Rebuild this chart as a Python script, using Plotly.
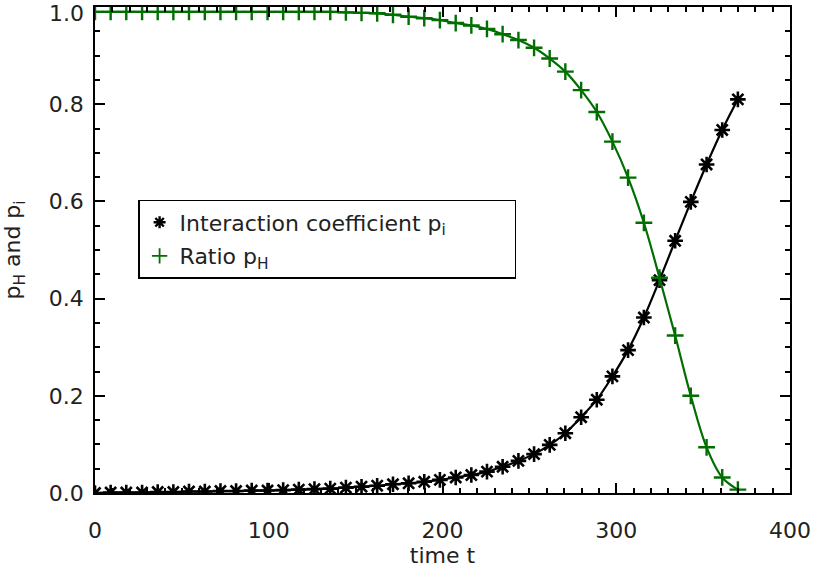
import plotly.graph_objects as go

t = [0.0, 9.0, 18.0, 27.1, 36.1, 45.1, 54.1, 63.2, 72.2, 81.2, 90.2, 99.3, 108.3, 117.3,
     126.3, 135.4, 144.4, 153.4, 162.4, 171.5, 180.5, 189.5, 198.5, 207.6, 216.6, 225.6,
     234.6, 243.7, 252.7, 261.7, 270.7, 279.8, 288.8, 297.8, 306.8, 315.9, 324.9, 333.9,
     342.9, 352.0, 361.0, 370.0]

p_i = [0.000, 0.001, 0.001, 0.001, 0.002, 0.002, 0.003, 0.003, 0.004, 0.004, 0.005, 0.005,
       0.006, 0.007, 0.008, 0.009, 0.011, 0.013,
       0.015, 0.018, 0.020, 0.023, 0.027, 0.032, 0.037, 0.044, 0.054, 0.066, 0.080, 0.099,
       0.123, 0.156, 0.192, 0.240, 0.294, 0.361, 0.438, 0.519, 0.599, 0.676, 0.747, 0.810]

p_H = [0.990] * 16 + [0.989, 0.988,
       0.987, 0.984, 0.980, 0.977, 0.973, 0.967, 0.962, 0.955, 0.944, 0.932, 0.916, 0.894,
       0.867, 0.829, 0.784, 0.723, 0.649, 0.556, 0.443, 0.324, 0.200, 0.094, 0.032, 0.007]

x_ticks = [0, 100, 200, 300, 400]
y_ticks = [0.0, 0.2, 0.4, 0.6, 0.8, 1.0]
y_labels = ["0.0", "0.2", "0.4", "0.6", "0.8", ""]
top_label = "1.0"

GREEN = "#006e00"
FONT = "DejaVu Sans"
TXT = "#222222"
FS = 22

fig = go.Figure()
fig.add_trace(go.Scatter(x=t, y=p_i, mode="lines+markers", showlegend=False,
                         line=dict(color="black", width=2.2, shape="spline"),
                         marker=dict(symbol="asterisk-open", size=13, color="black",
                                     line=dict(color="black", width=2.6))))
fig.add_trace(go.Scatter(x=t, y=p_H, mode="lines+markers", showlegend=False,
                         line=dict(color=GREEN, width=2.2, shape="spline"),
                         marker=dict(symbol="cross-thin-open", size=12, color=GREEN,
                                     line=dict(color=GREEN, width=2.4))))
# legend-only entries (marker symbol only)
fig.add_trace(go.Scatter(x=[None], y=[None], mode="markers", legendgroup="a",
                         name="Interaction coefficient p<sub>i</sub>" + "&nbsp;" * 9,
                         marker=dict(symbol="asterisk-open", size=10, color="black",
                                     line=dict(color="black", width=2.4))))
fig.add_trace(go.Scatter(x=[None], y=[None], mode="markers", legendgroup="b",
                         name="Ratio p<sub>H</sub>",
                         marker=dict(symbol="cross-thin-open", size=11, color=GREEN,
                                     line=dict(color=GREEN, width=1.8))))

axis_common = dict(showline=True, linecolor="black", linewidth=1.5, mirror="ticks",
                   ticks="inside", ticklen=10, tickwidth=1.5, tickcolor="black",
                   showgrid=False, zeroline=False, automargin=False,
                   ticklabeloverflow="allow",
                   tickfont=dict(family=FONT, size=FS, color=TXT))

fig.update_layout(
    width=813, height=571,
    margin=dict(l=95, r=23, t=7, b=78),
    paper_bgcolor="white", plot_bgcolor="white",
    font=dict(family=FONT, size=FS, color=TXT),
    xaxis=dict(range=[0, 400], tickvals=x_ticks, ticktext=[str(v) for v in x_ticks],
               minor=dict(dtick=10, ticklen=5, tickwidth=1.5, tickcolor="black", ticks="inside"),
               title=dict(text="time t", font=dict(family=FONT, size=FS, color=TXT), standoff=0),
               ticklabelstandoff=17,
               **axis_common),
    yaxis=dict(range=[0, 1], tickvals=y_ticks, ticktext=y_labels,
               minor=dict(dtick=0.05, ticklen=5, tickwidth=1.5, tickcolor="black", ticks="inside"),
               title=dict(text="p<sub>H</sub> and p<sub>i</sub>",
                          font=dict(family=FONT, size=FS, color=TXT), standoff=26),
               ticklabelstandoff=5,
               **axis_common),
    legend=dict(x=0.062, y=0.603, xanchor="left", yanchor="top",
                bgcolor="white", bordercolor="black", borderwidth=1.5,
                font=dict(family=FONT, size=FS, color=TXT),
                traceorder="grouped", tracegroupgap=2, itemwidth=30),
    annotations=[dict(text=top_label, xref="paper", yref="paper", x=0, y=1,
                      xanchor="right", yanchor="middle", showarrow=False,
                      xshift=-9, yshift=-6,
                      font=dict(family=FONT, size=FS, color=TXT))],
)

fig.write_html("out.html", config={"displayModeBar": False},
               post_script="document.body.style.margin='0';")
